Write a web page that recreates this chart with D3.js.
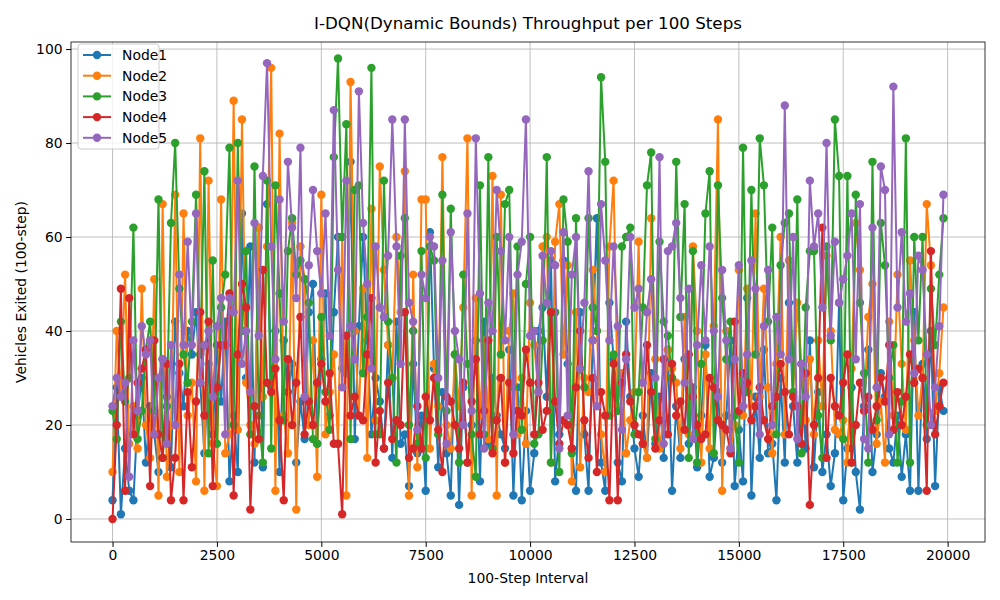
<!DOCTYPE html>
<html><head><meta charset="utf-8">
<script src="https://cdn.jsdelivr.net/npm/d3@7"></script>
<style>body{margin:0;background:#fff}svg{font-family:"DejaVu Sans",sans-serif}</style>
</head><body><svg id="c" width="1000" height="600"></svg>
<script>
const title = "I-DQN(Dynamic Bounds) Throughput per 100 Steps";
const seriesNames = ["Node1","Node2","Node3","Node4","Node5"];
const colors = ["#1f77b4","#ff7f0e","#2ca02c","#d62728","#9467bd"];
const steps = d3.range(0, 20000, 100);
const node1 = [4,28,1,15,6,4,22,30,12,24,18,10,34,26,11,42,31,24,40,35,44,29,14,33,18,37,25,42,8,22,
10,65,30,58,12,62,11,67,28,40,10,38,27,33,12,25,17,44,50,16,34,48,22,44,60,32,31,76,17,41,
60,38,18,30,25,15,37,13,42,16,18,7,33,14,22,6,61,32,11,27,14,5,35,3,28,12,20,38,8,42,
16,30,22,18,15,36,5,28,4,23,6,14,40,45,26,55,8,18,55,33,15,6,44,18,6,38,64,12,6,46,
34,12,8,42,26,15,9,22,13,31,16,26,13,36,6,24,13,34,16,28,11,22,37,9,13,27,12,22,38,7,
19,8,47,5,26,13,36,14,16,4,30,12,46,24,12,33,15,38,11,27,10,18,7,14,46,4,15,28,10,2,
24,36,10,18,31,26,15,12,22,9,18,6,44,6,33,17,40,7,28,23,10,8,25,17,3,28,9,42,12,12];
const node2 = [10,40,27,52,16,24,15,49,20,13,51,5,67,9,20,69,10,65,22,29,8,81,6,72,16,7,68,14,18,89,
19,85,29,20,16,62,26,58,96,6,82,22,14,63,2,58,51,20,38,9,69,18,27,35,16,60,5,93,40,22,
49,13,66,21,75,53,37,30,60,44,74,5,52,11,68,68,15,33,24,77,20,15,35,24,45,81,5,47,22,38,
17,73,5,69,12,40,48,18,30,16,46,37,27,58,60,12,59,67,35,54,8,44,11,30,27,53,40,18,10,58,
72,24,31,14,21,27,59,16,13,64,34,15,22,36,32,29,15,43,18,58,40,12,35,15,41,85,6,40,15,20,
53,22,49,24,65,26,49,28,14,33,60,18,55,27,46,33,21,34,18,38,24,56,40,19,18,21,12,32,63,53,
23,43,50,16,25,12,42,22,52,33,19,55,38,22,30,67,54,23,31,45,14,52,44,69,37,12,25,55,19,73];
const node3 = [23,17,42,25,30,62,17,23,36,42,23,68,13,24,63,80,49,35,29,42,69,35,74,14,55,16,45,52,79,
20,80,40,57,18,75,22,12,72,15,71,48,21,57,64,52,55,51,46,17,16,43,27,19,77,98,60,84,17,70,
71,31,43,96,18,18,72,42,30,12,56,64,20,40,16,57,13,58,55,18,69,23,66,35,12,52,33,18,9,71,
18,77,15,60,35,67,70,28,58,19,50,60,16,18,38,77,12,44,10,68,59,14,64,32,28,64,45,40,94,
76,22,35,23,58,60,62,18,27,45,71,78,17,59,42,39,30,76,43,67,13,57,12,33,65,74,14,71,47,
34,42,22,12,79,27,70,35,81,71,42,62,18,54,63,65,27,68,14,45,57,57,22,13,58,38,85,73,17,73,
12,69,46,31,12,76,21,63,54,30,37,12,25,81,12,60,38,60,20,49,37,52,64,21,30,58,64,24,23];
const node4 = [0,20,49,6,47,18,29,32,36,7,38,18,13,33,4,13,33,4,27,11,25,44,22,42,7,28,37,37,48,5,
35,50,45,2,24,17,53,29,27,32,21,4,34,20,29,43,18,25,20,29,33,25,31,16,16,1,39,22,26,22,
21,35,47,12,23,15,29,17,21,20,44,13,15,24,15,26,21,30,19,10,26,25,20,15,29,12,25,34,18,23,
38,14,21,30,12,29,14,23,22,36,29,18,29,19,23,44,25,16,21,20,15,28,40,21,13,30,10,27,22,4,
33,4,29,35,25,20,18,16,37,27,15,21,34,18,33,22,25,19,35,26,20,17,18,30,28,21,20,19,14,42,
23,31,29,21,24,28,21,17,24,26,33,27,18,26,24,16,31,3,20,30,62,13,30,24,22,29,35,12,20,29,
23,26,19,24,30,25,37,19,27,20,26,35,29,32,30,6,57,18,24,29,41,30,25,27,22,39,20,35,41,41];
const node5 = [24,30,26,29,9,38,23,41,35,38,18,30,34,16,37,20,52,37,59,37,65,29,37,40,26,41,47,18,47,44,
72,33,40,27,63,39,73,97,58,34,68,42,76,62,47,79,26,54,70,57,48,65,39,87,53,28,72,41,34,91,
63,50,32,58,45,43,56,85,58,33,85,46,42,19,52,47,60,58,30,55,16,61,40,34,20,65,23,81,48,15,
46,40,70,57,38,60,18,52,59,85,39,40,27,56,46,57,54,15,61,22,52,60,32,46,74,38,24,67,55,38,
58,41,19,34,60,45,49,29,44,51,30,77,16,57,58,63,47,29,49,17,37,54,38,58,40,26,53,38,15,34,
54,24,35,55,49,18,41,53,20,43,35,88,34,60,17,33,26,72,58,65,45,80,39,59,46,51,56,65,34,67,
17,15,62,28,75,70,18,92,45,61,42,48,31,56,53,35,20,28,41,69,20,62,45,64,70,37,63,84,25];
const data = [node1,node2,node3,node4,node5];

const W=1000,H=600,m={l:71,r:15,t:42,b:58};
const svg=d3.select("#c");
const x=d3.scaleLinear().domain([-995,20895]).range([m.l,W-m.r]);
const y2=d3.scaleLinear().domain([-4.9,101.5]).range([H-m.b,m.t]);
const g=svg.append("g");
const xt=[0,2500,5000,7500,10000,12500,15000,17500,20000], yt=[0,20,40,60,80,100];
g.selectAll(".gx").data(xt).join("line").attr("x1",d=>x(d)).attr("x2",d=>x(d)).attr("y1",m.t).attr("y2",H-m.b).attr("stroke","#b0b0b0").attr("stroke-width",0.8);
g.selectAll(".gy").data(yt).join("line").attr("y1",d=>y2(d)).attr("y2",d=>y2(d)).attr("x1",m.l).attr("x2",W-m.r).attr("stroke","#b0b0b0").attr("stroke-width",0.8);
svg.append("clipPath").attr("id","cp").append("rect").attr("x",m.l).attr("y",m.t).attr("width",W-m.l-m.r).attr("height",H-m.t-m.b);
data.forEach((s,k)=>{
  const gg=svg.append("g").attr("clip-path","url(#cp)");
  gg.append("path").datum(s).attr("fill","none").attr("stroke",colors[k]).attr("stroke-width",2)
    .attr("d",d3.line().x((d,i)=>x(steps[i])).y(d=>y2(d)));
  gg.selectAll("circle").data(s).join("circle").attr("cx",(d,i)=>x(steps[i])).attr("cy",d=>y2(d)).attr("r",4.2).attr("fill",colors[k]);
});
svg.append("rect").attr("x",m.l).attr("y",m.t).attr("width",W-m.l-m.r).attr("height",H-m.t-m.b).attr("fill","none").attr("stroke","#000").attr("stroke-width",0.8);
const xa=svg.append("g").attr("transform",`translate(0,${H-m.b})`).call(d3.axisBottom(x).tickValues(xt).tickSize(4.9).tickPadding(3.5).tickFormat(d3.format("d")));
const ya=svg.append("g").attr("transform",`translate(${m.l},0)`).call(d3.axisLeft(y2).tickValues(yt).tickSize(4.9).tickPadding(3.5));
[xa,ya].forEach(a=>{a.select(".domain").remove();a.selectAll("text").attr("font-size",13.9).attr("fill","#000").attr("font-family","DejaVu Sans");});
svg.append("text").attr("x",(m.l+W-m.r)/2).attr("y",29).attr("text-anchor","middle").attr("font-size",16.7).text(title);
svg.append("text").attr("x",(m.l+W-m.r)/2).attr("y",583).attr("text-anchor","middle").attr("font-size",13.9).text("100-Step Interval");
svg.append("text").attr("transform",`translate(26,${(m.t+H-m.b)/2}) rotate(-90)`).attr("text-anchor","middle").attr("font-size",13.9).text("Vehicles Exited (100-step)");
const lg=svg.append("g").attr("transform","translate(78,44)");
lg.append("rect").attr("width",81).attr("height",105).attr("rx",3).attr("fill","#fff").attr("fill-opacity",0.8).attr("stroke","#ccc");
seriesNames.forEach((n,i)=>{
  const yy=11+i*20.7;
  lg.append("line").attr("x1",5).attr("x2",33).attr("y1",yy).attr("y2",yy).attr("stroke",colors[i]).attr("stroke-width",2);
  lg.append("circle").attr("cx",19).attr("cy",yy).attr("r",4.2).attr("fill",colors[i]);
  lg.append("text").attr("x",44).attr("y",yy+5).attr("font-size",13.9).text(n);
});
</script></body></html>
